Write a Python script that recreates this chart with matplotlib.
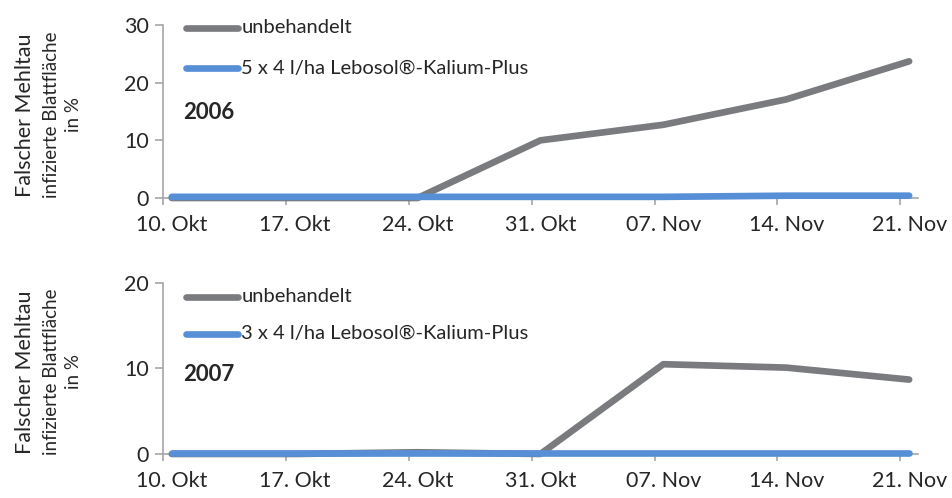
import matplotlib
matplotlib.use("Agg")
import matplotlib.pyplot as plt
from matplotlib.lines import Line2D

plt.rcParams['font.family'] = ['Lato', 'DejaVu Sans']

# Data
tick_labels = ["10. Okt", "17. Okt", "24. Okt", "31. Okt", "07. Nov", "14. Nov", "21. Nov"]
days = [0, 7, 14, 21, 28, 35, 42]  # days after 10. Okt

untreated_2006 = [0.0, 0.0, 0.0, 10.0, 12.7, 17.1, 23.7]
treated_2006 = [0.2, 0.2, 0.2, 0.2, 0.2, 0.4, 0.4]
untreated_2007 = [0.0, 0.0, 0.2, 0.0, 10.5, 10.1, 8.7]
treated_2007 = [0.1, 0.1, 0.1, 0.1, 0.1, 0.1, 0.1]

label_untreated = "unbehandelt"
label_2006 = "5 x 4 l/ha Lebosol®-Kalium-Plus"
label_2007 = "3 x 4 l/ha Lebosol®-Kalium-Plus"

GRAY = "#7A7B7E"
BLUE = "#568FD6"
AXC = "#A6A6A6"
TXT = "#262626"

fig = plt.figure(figsize=(9.52, 4.98), dpi=100)
ax1 = fig.add_axes([0.1712, 0.6024, 0.793, 0.3474])
ax2 = fig.add_axes([0.1712, 0.0884, 0.793, 0.3434])


def style(ax, ymax, yticks, year, lab2, gy, by, yr_y):
    x = [d + 0.5 for d in days]
    ax.set_xlim(0, 43)
    ax.set_ylim(0, ymax)
    for s in ("top", "right"):
        ax.spines[s].set_visible(False)
    for s in ("left", "bottom"):
        ax.spines[s].set_color(AXC)
        ax.spines[s].set_linewidth(1.2)
    ax.set_yticks(yticks)
    ax.set_yticklabels([str(v) for v in yticks])
    ax.set_xticks(days)
    ax.set_xticklabels([])
    ax.set_xticks(x, minor=True)
    ax.set_xticklabels(tick_labels, minor=True)
    ax.tick_params(axis='x', which='major', length=5, color=AXC, width=1.2)
    ax.tick_params(axis='x', which='minor', length=0, pad=12, labelsize=15.5, labelcolor=TXT)
    ax.tick_params(axis='y', length=6, color=AXC, width=1.2, pad=4, labelsize=15.5, labelcolor=TXT)
    for lab in ax.get_xticklabels(minor=True):
        lab.set_clip_on(False)
    ax.text(0.027, yr_y, year, transform=ax.transAxes, fontsize=16, fontweight='bold',
            color=TXT, va='center', ha='left')
    # legend (manual)
    for yy, col, lab in ((gy, GRAY, label_untreated), (by, BLUE, lab2)):
        ax.add_line(Line2D([0.031, 0.100], [yy, yy], transform=ax.transAxes, color=col,
                           lw=4.8, solid_capstyle='round', clip_on=False))
        ax.text(0.104, yy, lab, transform=ax.transAxes, fontsize=14.5, color=TXT,
                va='center', ha='left')


xs = [d + 0.5 for d in days]
ax1.plot(xs, untreated_2006, color=GRAY, lw=4.8, solid_capstyle='round', clip_on=False, zorder=3)
ax1.plot(xs, treated_2006, color=BLUE, lw=4.8, solid_capstyle='round', clip_on=False, zorder=4)
ax2.plot(xs, untreated_2007, color=GRAY, lw=4.8, solid_capstyle='round', clip_on=False, zorder=3)
ax2.plot(xs, treated_2007, color=BLUE, lw=4.8, solid_capstyle='round', clip_on=False, zorder=4)

style(ax1, 30, [0, 10, 20, 30], "2006", label_2006, 0.983, 0.751, 0.497)
style(ax2, 20, [0, 10, 20], "2007", label_2007, 0.918, 0.702, 0.462)

for ax in (ax1, ax2):
    ax.text(-0.183, 0.48, "Falscher Mehltau", transform=ax.transAxes, rotation=90,
            fontsize=15.5, color=TXT, ha='center', va='center')
    ax.text(-0.148, 0.48, "infizierte Blattfläche", transform=ax.transAxes, rotation=90,
            fontsize=13.5, color=TXT, ha='center', va='center')
    ax.text(-0.118, 0.48, "in %", transform=ax.transAxes, rotation=90,
            fontsize=13.5, color=TXT, ha='center', va='center')

fig.savefig("out.png", dpi=100)
